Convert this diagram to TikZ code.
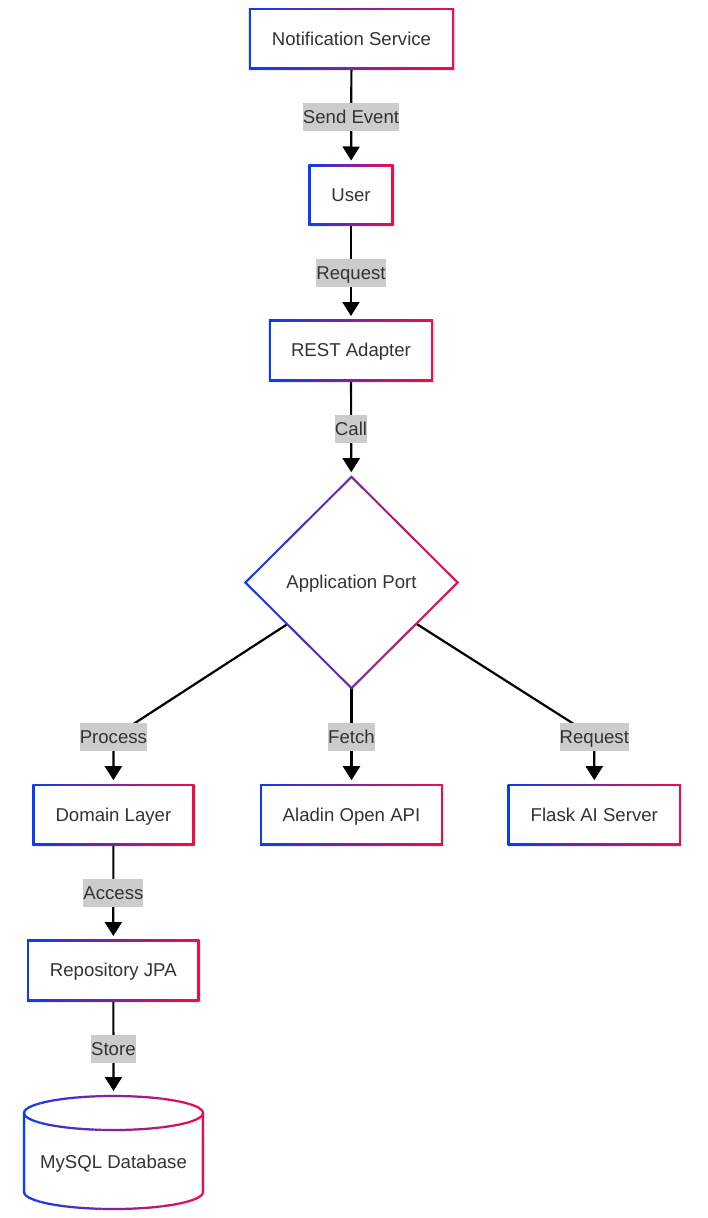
\documentclass[tikz,border=0pt]{standalone}
\usepackage{fontspec}
\setmainfont{Liberation Sans}
\usetikzlibrary{shapes.geometric,arrows.meta,calc}
\definecolor{gblue}{HTML}{0A3CF5}
\definecolor{gred}{HTML}{F50A4B}
\definecolor{txt}{HTML}{333333}
\definecolor{lblbg}{HTML}{CCCCCC}
\pgfdeclarelayer{edges}
\pgfdeclarelayer{borders}
\pgfsetlayers{edges,borders,main}
\tikzset{
  base/.style={inner sep=0pt, outer sep=0pt, text=txt, font=\fontsize{18.6}{22}\selectfont, text height=16.8pt, text depth=3.9pt},
  box/.style={base, rectangle, minimum height=59pt},
  decision/.style={base, diamond, minimum width=212pt, minimum height=211pt},
  store/.style={base, rectangle, minimum width=179pt, minimum height=113pt},
  lbl/.style={base, fill=lblbg, inner xsep=0pt, minimum height=28pt},
  conn/.style={line width=2.2pt, black, shorten >=5pt, -{Triangle[width=17pt,length=14pt]}},
  shadowbox/.style={fill=black, opacity=0.08},
}
\newcommand{\gradbox}[1]{%
  \fill[shadowbox] ($(#1.north west)+(0,1)$) rectangle ($(#1.south east)+(2.5,2.5)$);
  \shade[left color=gblue, right color=gred] ($(#1.north west)+(-1.1,-1.1)$) rectangle ($(#1.south east)+(1.1,1.1)$);
  \fill[white] ($(#1.north west)+(1.1,1.1)$) rectangle ($(#1.south east)+(-1.1,-1.1)$);
}
\begin{document}
\begin{tikzpicture}[x=1pt,y=-1pt]
\useasboundingbox (0,0) rectangle (707,1218);
% nodes
\node[box, minimum width=203pt] (ns) at (351.5,38.75) {Notification Service};
\node[box, minimum width=83pt] (user) at (351,195) {User};
\node[box, minimum width=162pt] (rest) at (351,350.5) {REST Adapter};
\node[decision] (app) at (351.5,582.5) {Application Port};
\node[box, minimum width=160pt] (dom) at (113.4,814.7) {Domain Layer};
\node[box, minimum width=180.5pt] (aladin) at (351.5,814.7) {Aladin Open API};
\node[box, minimum width=171pt] (flask) at (594.3,814.7) {Flask AI Server};
\node[box, minimum width=170pt] (repo) at (113.3,970.5) {Repository JPA};
\node[store] (db) at (113.5,1152.5) {};
\node[base] (dbtext) at (113.5,1162) {MySQL Database};
% edge labels
\node[lbl] (l1) at (351,116.8) {Send Event};
\node[lbl] (l2) at (351,272.8) {Request};
\node[lbl] (l3) at (351,428.6) {Call};
\node[lbl] (l4) at (113.4,737) {Process};
\node[lbl] (l5) at (351.5,737) {Fetch};
\node[lbl] (l6) at (594.3,737) {Request};
\node[lbl] (l7) at (113.4,892.7) {Access};
\node[lbl] (l8) at (113.4,1048.7) {Store};
% borders
\begin{pgfonlayer}{borders}
  \gradbox{ns}
  \gradbox{user}
  \gradbox{rest}
  \gradbox{dom}
  \gradbox{aladin}
  \gradbox{flask}
  \gradbox{repo}
  % diamond
  \fill[shadowbox] ($(app.north)+(1,0)$) -- ($(app.east)+(2.5,1)$) -- ($(app.south)+(1,2.5)$) -- ($(app.west)+(0,1)$) -- cycle;
  \shade[left color=gblue, right color=gred] ($(app.north)+(0,-1.55)$) -- ($(app.east)+(1.55,0)$) -- ($(app.south)+(0,1.55)$) -- ($(app.west)+(-1.55,0)$) -- cycle;
  \fill[white] ($(app.north)+(0,1.55)$) -- ($(app.east)+(-1.55,0)$) -- ($(app.south)+(0,-1.55)$) -- ($(app.west)+(1.55,0)$) -- cycle;
  % cylinder
  \fill[shadowbox] (25,1114) -- (25,1193) arc[start angle=180,end angle=360,x radius=89.5pt,y radius=17pt] -- (204,1114) arc[start angle=0,end angle=180,x radius=89.5pt,y radius=17pt] -- cycle;
  \fill[white] (24,1113) -- (24,1192) arc[start angle=180,end angle=360,x radius=89.5pt,y radius=17pt] -- (203,1113) arc[start angle=0,end angle=180,x radius=89.5pt,y radius=17pt] -- cycle;
  \foreach \i in {0,...,59}{
    \pgfmathsetmacro{\xa}{22+\i*183/60}
    \pgfmathsetmacro{\xb}{\xa+183/60+0.4}
    \pgfmathsetmacro{\pp}{100*(\i+0.5)/60}
    \begin{scope}
      \clip (\xa,1088) rectangle (\xb,1214);
      \draw[line width=2.2pt, draw=gred!\pp!gblue] (113.5,1113) ellipse [x radius=89.5pt, y radius=17pt];
      \draw[line width=2.2pt, draw=gred!\pp!gblue] (24,1113) -- (24,1192) arc[start angle=180,end angle=360,x radius=89.5pt,y radius=17pt] -- (203,1113);
    \end{scope}
  }
\end{pgfonlayer}
% connectors
\begin{pgfonlayer}{edges}
  \draw[conn] (ns) -- (user);
  \draw[conn] (user) -- (rest);
  \draw[conn] (rest) -- (app);
  \draw[conn] (app) -- (l4.center) -- (dom);
  \draw[conn] (app) -- (aladin);
  \draw[conn] (app) -- (l6.center) -- (flask);
  \draw[conn] (dom) -- (repo);
  \draw[conn] (repo) -- (db.north);
\end{pgfonlayer}
\end{tikzpicture}
\end{document}
